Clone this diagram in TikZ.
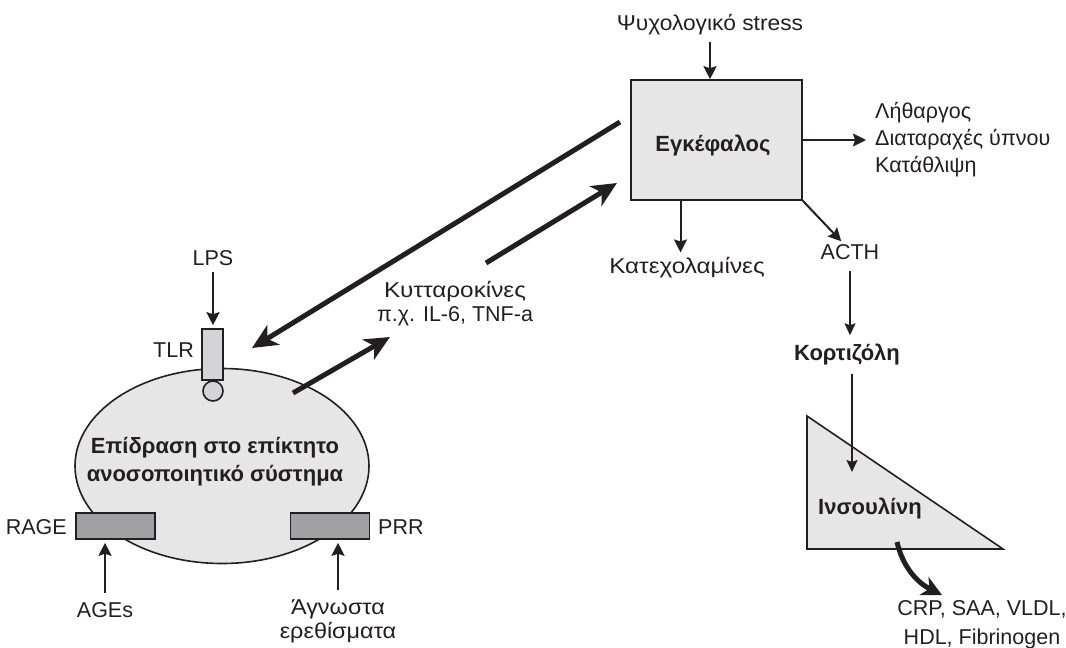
\documentclass[tikz,border=0pt]{standalone}
\usepackage{fontspec}
\setmainfont{Liberation Sans}
\newfontfamily\grkwide[FakeStretch=1.13]{Liberation Sans}
\newfontfamily\grkmid[FakeStretch=1.09]{Liberation Sans}
\newfontfamily\grknarrow[FakeStretch=1.06]{Liberation Sans}
\usetikzlibrary{arrows.meta,shapes.geometric}
\definecolor{ink}{HTML}{231F20}
\definecolor{lightfill}{HTML}{E6E6E7}
\definecolor{midfill}{HTML}{D3D4D6}
\definecolor{darkfill}{HTML}{A0A1A3}
\tikzset{
  lbl/.style={font=\fontsize{21.5}{24}\selectfont, inner sep=0pt, align=center, text=ink},
  blbl/.style={font=\fontsize{22}{28}\selectfont\bfseries, inner sep=0pt, align=center, text=ink},
  arr/.style={draw=ink, line width=2pt, -{Stealth[length=13pt,width=13pt,inset=2pt]}},
  slim/.style={draw=ink, line width=1.5pt, -{Stealth[length=12pt,width=11pt,inset=2pt]}},
  fat/.style={draw=ink, line width=5pt, -{Stealth[length=25pt,width=23pt,inset=7pt]}},
  shapeline/.style={draw=ink, line width=1.6pt},
}
\begin{document}
\begin{tikzpicture}[x=1pt,y=-1pt]
\useasboundingbox (0,0) rectangle (1066,648);

% ---- brain part ----
\node[lbl, font=\grknarrow\fontsize{21.5}{24}\selectfont] (stress) at (710,25) {Ψυχολογικό stress};
\node[shapeline, fill=lightfill, minimum width=171pt, minimum height=120pt, inner sep=0pt] (brain) at (716.5,140) {};
\node[blbl] (braintxt) at (713,146) {Εγκέφαλος};
\node[lbl, align=left, anchor=west, font=\fontsize{21.5}{27}\selectfont] (sym) at (875,140) {Λήθαργος\\Διαταραχές ύπνου\\Κατάθλιψη};
\node[lbl, font=\grkwide\fontsize{21.5}{24}\selectfont] (cat) at (687,268) {Κατεχολαμίνες};
\node[lbl] (acth) at (850,252) {ACTH};
\node[blbl] (kort) at (847,355) {Κορτιζόλη};

\draw[arr, shorten <=6pt] (stress.south) -- (stress.south |- brain.north);
\draw[arr, shorten >=9pt] (brain.east) -- (brain.east -| sym.west);
\draw[arr, shorten >=5pt] ([xshift=-36pt]brain.south) -- ([xshift=-36pt]brain.south |- cat.north);
\draw[arr, shorten >=4pt] (brain.south east) -- ([xshift=-6pt]acth.north);
\draw[slim, shorten <=11pt, shorten >=9pt] (acth.south) -- (acth.south |- kort.north);

% ---- triangle ----
\coordinate (t1) at (807,416);
\coordinate (t2) at (807,549);
\coordinate (t3) at (1003,549);
\draw[shapeline, fill=lightfill] (t1) -- (t2) -- (t3) -- cycle;
\node[blbl] (ins) at (870,509) {Ινσουλίνη};
\coordinate (triin) at (852,472);
\draw[slim, shorten <=8pt] (kort.south -| triin) -- (triin);
\node[lbl, font=\fontsize{21.5}{29}\selectfont] (crp) at (982,625) {CRP, SAA, VLDL,\\HDL, Fibrinogen};
\coordinate (curvestart) at (897,542);
\coordinate (curveend) at (942,595);
\draw[fat, -{Stealth[length=20pt,width=20pt,inset=6pt]}] (curvestart) .. controls (903,568) and (918,583) .. (curveend);

% ---- immune cell ----
\node[shapeline, ellipse, fill=lightfill, minimum width=294pt, minimum height=195pt, inner sep=0pt] (cell) at (222,466) {};
\node[blbl] (celltxt) at (215,462) {Επίδραση στο επίκτητο\\ανοσοποιητικό σύστημα};
\node[shapeline, circle, fill=midfill, minimum size=20pt, inner sep=0pt] (knob) at (213,391) {};
\node[shapeline, fill=midfill, minimum width=21pt, minimum height=51pt, inner sep=0pt] (tlr) at (212.5,354.5) {};
\node[lbl, anchor=east] (tlrtxt) at (194,350) {TLR};
\node[lbl] (lps) at (213,258) {LPS};
\draw[arr, shorten <=6pt, shorten >=3pt] (lps.south) -- (lps.south |- tlr.north);

\node[shapeline, fill=darkfill, minimum width=79pt, minimum height=26pt, inner sep=0pt] (rage) at (115.5,526) {};
\node[shapeline, fill=darkfill, minimum width=79pt, minimum height=26pt, inner sep=0pt] (prr) at (330,526) {};
\node[lbl, anchor=east] (ragetxt) at (67,527) {RAGE};
\node[lbl, anchor=west] (prrtxt) at (378,527) {PRR};
\node[lbl] (ages) at (105,610) {AGEs};
\node[lbl, font=\grkmid\fontsize{21.5}{24}\selectfont] (unk) at (338,621) {Άγνωστα\\ερεθίσματα};
\draw[arr, shorten <=9pt, shorten >=3pt] (ages.north) -- (ages.north |- rage.south);
\draw[arr, shorten <=9pt, shorten >=3pt] (unk.north) -- (unk.north |- prr.south);

% ---- cytokines and long arrows ----
\node[lbl] (cyt) at (455,304) {{\grkwide Κυτταροκίνες}\\π.χ. IL-6, TNF-a};
\coordinate (fbstart) at (620,122);
\coordinate (fbend) at (252,348);
\draw[fat] (fbstart) -- (fbend);
\coordinate (cellout) at (293,393);
\coordinate (cytin) at (390,337);
\draw[fat] (cellout) -- (cytin);
\coordinate (cytout) at (486,263);
\coordinate (brainin) at (617,183);
\draw[fat] (cytout) -- (brainin);
\end{tikzpicture}
\end{document}
